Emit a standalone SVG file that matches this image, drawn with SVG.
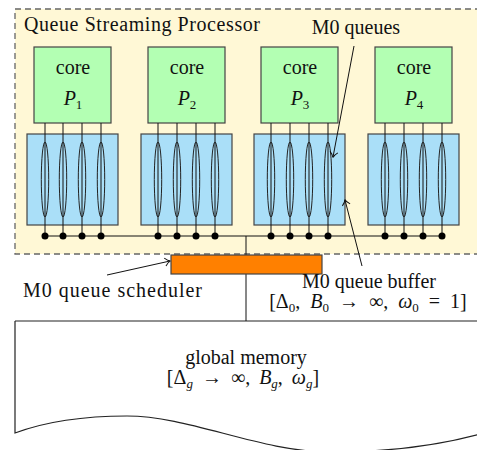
<svg xmlns="http://www.w3.org/2000/svg" width="477" height="450" viewBox="0 0 477 450">
<style>
text{font-family:"Liberation Serif","Times New Roman",serif;font-size:20px;fill:#111}
.core{fill:#b3ffb3;stroke:#444;stroke-width:1.2}
.buf{fill:#aadff8;stroke:#444;stroke-width:1.2}
.q{fill:none;stroke:#222;stroke-width:1}
.ln{stroke:#111;stroke-width:1;fill:none}
.dot{fill:#000}
.it{font-style:italic}
.sub{font-size:13px}
.m{font-size:20px}
</style>
<defs>
<marker id="to" viewBox="-6 -5 8 10" refX="0" refY="0" markerWidth="8" markerHeight="10" markerUnits="userSpaceOnUse" orient="auto">
<path d="M-5,-4 Q-2,-0.5 0.5,0 Q-2,0.5 -5,4" fill="none" stroke="#111" stroke-width="1"/>
</marker>
</defs>

<g id="qsp">
<rect x="15" y="9" width="475" height="245" fill="#fff8d6" stroke="#666" stroke-width="1.3" stroke-dasharray="6 4"/>
<text x="24" y="31" textLength="236" lengthAdjust="spacing">Queue Streaming Processor</text>
</g>

<g id="global-memory">
<path d="M15,321 H480 V435 M15,321 V433 C50,420 90,416 127,416 C190,416 260,452 330,452 C390,452 440,445 480,434" fill="#fff" stroke="#222" stroke-width="1.2"/>
<text x="246" y="364" text-anchor="middle">global memory</text>
<text class="m" x="243" y="384" text-anchor="middle" word-spacing="4">[Δ<tspan class="it sub" dy="4">g</tspan><tspan dy="-4" xml:space="preserve"> → ∞, </tspan><tspan class="it">B</tspan><tspan class="it sub" dy="4">g</tspan><tspan dy="-4" xml:space="preserve">, </tspan><tspan class="it">ω</tspan><tspan class="it sub" dy="4">g</tspan><tspan dy="-4">]</tspan></text>
</g>

<g id="connectors">
<line class="ln" x1="45" y1="236" x2="442" y2="236"/>
<line class="ln" x1="246" y1="236" x2="246" y2="321"/>
</g>

<g id="core1">
<rect class="core" x="34" y="47" width="77" height="76"/>
<text x="73" y="74" text-anchor="middle">core</text>
<text x="73" y="105" text-anchor="middle"><tspan class="it">P</tspan><tspan class="sub" dy="4">1</tspan></text>
</g>
<g id="core2">
<rect class="core" x="148" y="47" width="77" height="76"/>
<text x="187" y="74" text-anchor="middle">core</text>
<text x="187" y="105" text-anchor="middle"><tspan class="it">P</tspan><tspan class="sub" dy="4">2</tspan></text>
</g>
<g id="core3">
<rect class="core" x="261" y="47" width="77" height="76"/>
<text x="300" y="74" text-anchor="middle">core</text>
<text x="300" y="105" text-anchor="middle"><tspan class="it">P</tspan><tspan class="sub" dy="4">3</tspan></text>
</g>
<g id="core4">
<rect class="core" x="375" y="47" width="77" height="76"/>
<text x="414" y="74" text-anchor="middle">core</text>
<text x="414" y="105" text-anchor="middle"><tspan class="it">P</tspan><tspan class="sub" dy="4">4</tspan></text>
</g>

<g id="queues1">
<rect class="buf" x="27" y="134" width="91" height="91"/>
<g class="q"><ellipse cx="45" cy="179.5" rx="3.7" ry="37.5"/><ellipse cx="63" cy="179.5" rx="3.7" ry="37.5"/><ellipse cx="82" cy="179.5" rx="3.7" ry="37.5"/><ellipse cx="101" cy="179.5" rx="3.7" ry="37.5"/></g>
<path class="ln" d="M45,123V236M63,123V236M82,123V236M101,123V236"/>
<circle class="dot" cx="45" cy="236" r="3.5"/><circle class="dot" cx="63" cy="236" r="3.5"/><circle class="dot" cx="82" cy="236" r="3.5"/><circle class="dot" cx="101" cy="236" r="3.5"/>
</g>
<g id="queues2">
<rect class="buf" x="141" y="134" width="91" height="91"/>
<g class="q"><ellipse cx="158" cy="179.5" rx="3.7" ry="37.5"/><ellipse cx="177" cy="179.5" rx="3.7" ry="37.5"/><ellipse cx="196" cy="179.5" rx="3.7" ry="37.5"/><ellipse cx="215" cy="179.5" rx="3.7" ry="37.5"/></g>
<path class="ln" d="M158,123V236M177,123V236M196,123V236M215,123V236"/>
<circle class="dot" cx="158" cy="236" r="3.5"/><circle class="dot" cx="177" cy="236" r="3.5"/><circle class="dot" cx="196" cy="236" r="3.5"/><circle class="dot" cx="215" cy="236" r="3.5"/>
</g>
<g id="queues3">
<rect class="buf" x="254" y="134" width="91" height="91"/>
<g class="q"><ellipse cx="271" cy="179.5" rx="3.7" ry="37.5"/><ellipse cx="290" cy="179.5" rx="3.7" ry="37.5"/><ellipse cx="309" cy="179.5" rx="3.7" ry="37.5"/><ellipse cx="328" cy="179.5" rx="3.7" ry="37.5"/></g>
<path class="ln" d="M271,123V236M290,123V236M309,123V236M328,123V236"/>
<circle class="dot" cx="271" cy="236" r="3.5"/><circle class="dot" cx="290" cy="236" r="3.5"/><circle class="dot" cx="309" cy="236" r="3.5"/><circle class="dot" cx="328" cy="236" r="3.5"/>
</g>
<g id="queues4">
<rect class="buf" x="368" y="134" width="91" height="91"/>
<g class="q"><ellipse cx="385" cy="179.5" rx="3.7" ry="37.5"/><ellipse cx="404" cy="179.5" rx="3.7" ry="37.5"/><ellipse cx="423" cy="179.5" rx="3.7" ry="37.5"/><ellipse cx="442" cy="179.5" rx="3.7" ry="37.5"/></g>
<path class="ln" d="M385,123V236M404,123V236M423,123V236M442,123V236"/>
<circle class="dot" cx="385" cy="236" r="3.5"/><circle class="dot" cx="404" cy="236" r="3.5"/><circle class="dot" cx="423" cy="236" r="3.5"/><circle class="dot" cx="442" cy="236" r="3.5"/>
</g>

<g id="scheduler">
<rect x="171" y="255" width="151" height="19" fill="#ff8000" stroke="#444" stroke-width="1.2"/>
<text x="23" y="297" textLength="179" lengthAdjust="spacing">M0 queue scheduler</text>
</g>

<g id="labels">
<text x="356" y="34" text-anchor="middle">M0 queues</text>
<text x="369" y="288" text-anchor="middle">M0 queue buffer</text>
<text class="m" x="368" y="308" text-anchor="middle" word-spacing="5">[Δ<tspan class="sub" dy="4">0</tspan><tspan dy="-4" xml:space="preserve">, </tspan><tspan class="it">B</tspan><tspan class="sub" dy="4">0</tspan><tspan dy="-4" xml:space="preserve"> → ∞, </tspan><tspan class="it">ω</tspan><tspan class="sub" dy="4">0</tspan><tspan dy="-4" xml:space="preserve"> = 1]</tspan></text>
</g>

<g id="annotation-arrows">
<line class="ln" x1="354" y1="46" x2="333" y2="157" marker-end="url(#to)"/>
<line class="ln" x1="362" y1="266" x2="345" y2="200" marker-end="url(#to)"/>
<line class="ln" x1="107" y1="275" x2="170" y2="261" marker-end="url(#to)"/>
</g>
</svg>
